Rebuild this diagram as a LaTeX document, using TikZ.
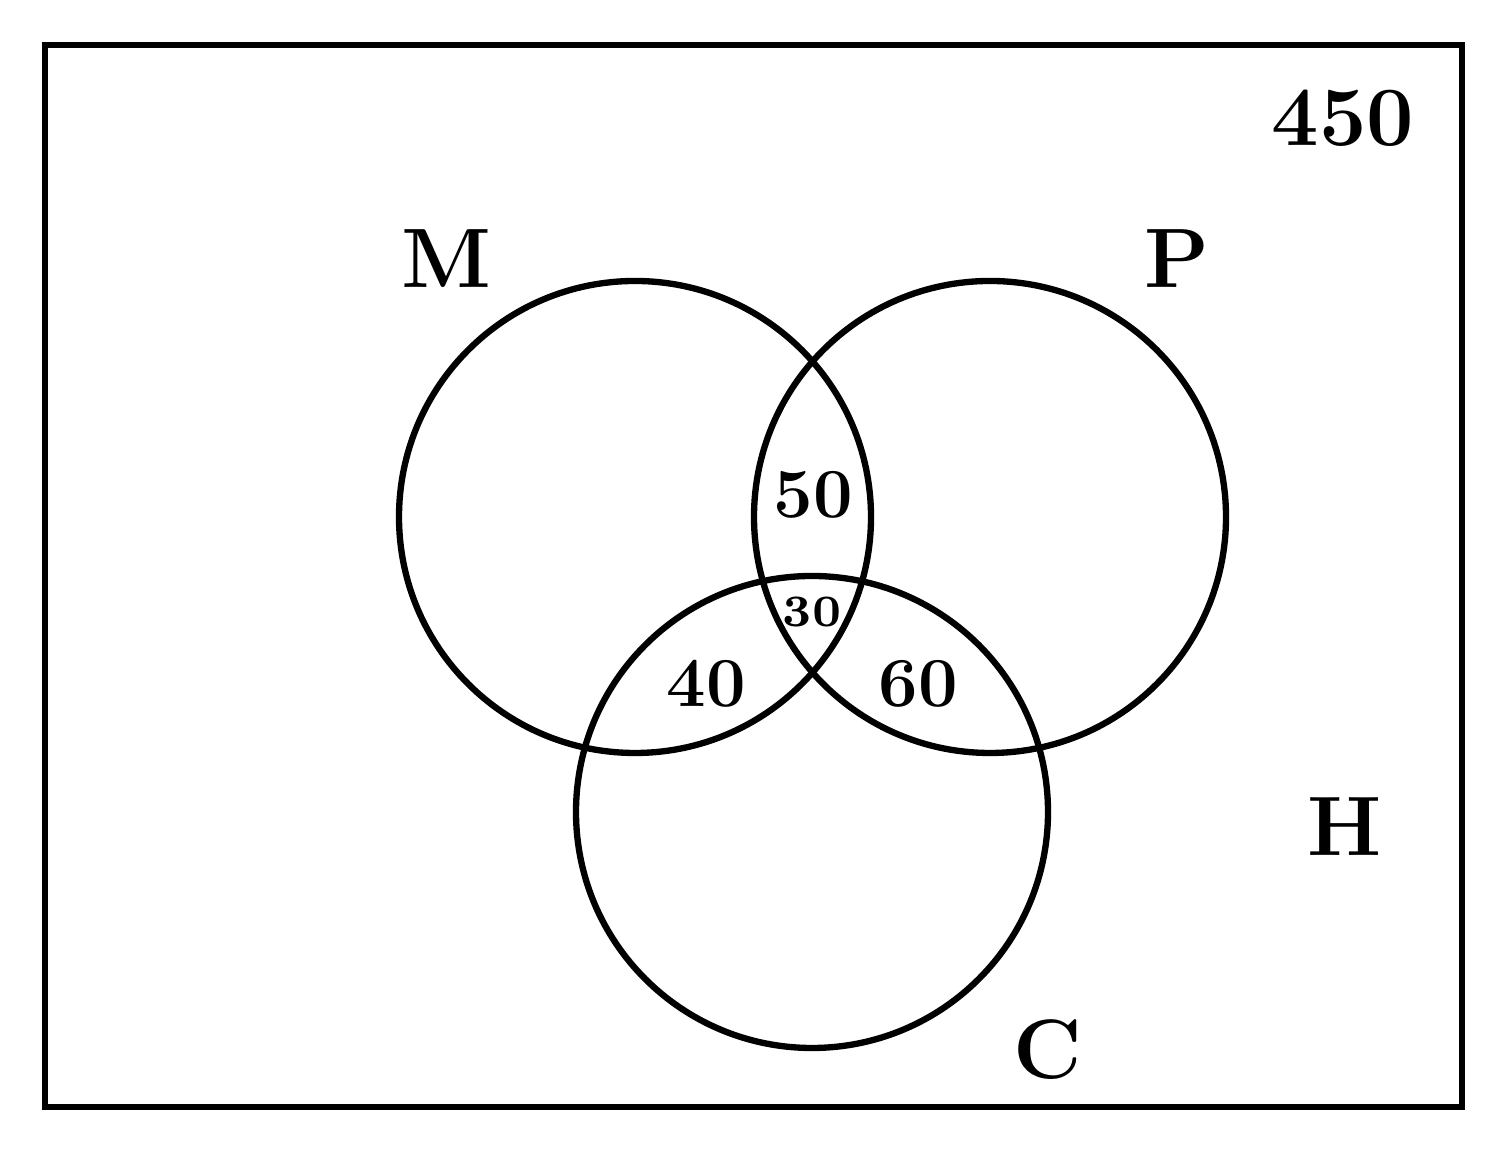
\documentclass[tikz,border=0pt]{standalone}
\usepackage{tikz}
\usetikzlibrary{positioning}

\begin{document}
\begin{tikzpicture}[
  set/.style={circle,draw,line width=1.8pt,minimum size=4.72cm,inner sep=0pt},
  big/.style={font=\fontsize{24}{28}\selectfont\bfseries},
  mid/.style={font=\fontsize{20}{24}\selectfont\bfseries},
  small/.style={font=\fontsize{7}{8}\selectfont\bfseries,scale=1.83}]
  \useasboundingbox (0,0) rectangle (15.07,11.53);
  % universal set
  \draw[line width=1.8pt] (0.45,0.46) rectangle (14.62,11.08);
  \node[big] (total) at (13.43,10.35) {450};
  \node[big] (hlab) at (13.45,3.26) {H};
  % the three sets
  \node[set] (M) at (6.35,6.36) {};
  \node[set] (P) at (9.90,6.36) {};
  \node[set] (C) at (8.12,3.41) {};
  \node[big] (mlab) at (4.46,8.94) {M};
  \node[big] (plab) at (11.77,8.94) {P};
  \node[big] (clab) at (10.48,1.03) {C};
  % overlaps
  \node[mid] (mp) at (8.13,6.58) {50};
  \node[small] (mpc) at (8.12,5.41) {30};
  \node[mid] (mc) at (7.06,4.69) {40};
  \node[mid] (pc) at (9.18,4.69) {60};
\end{tikzpicture}
\end{document}
